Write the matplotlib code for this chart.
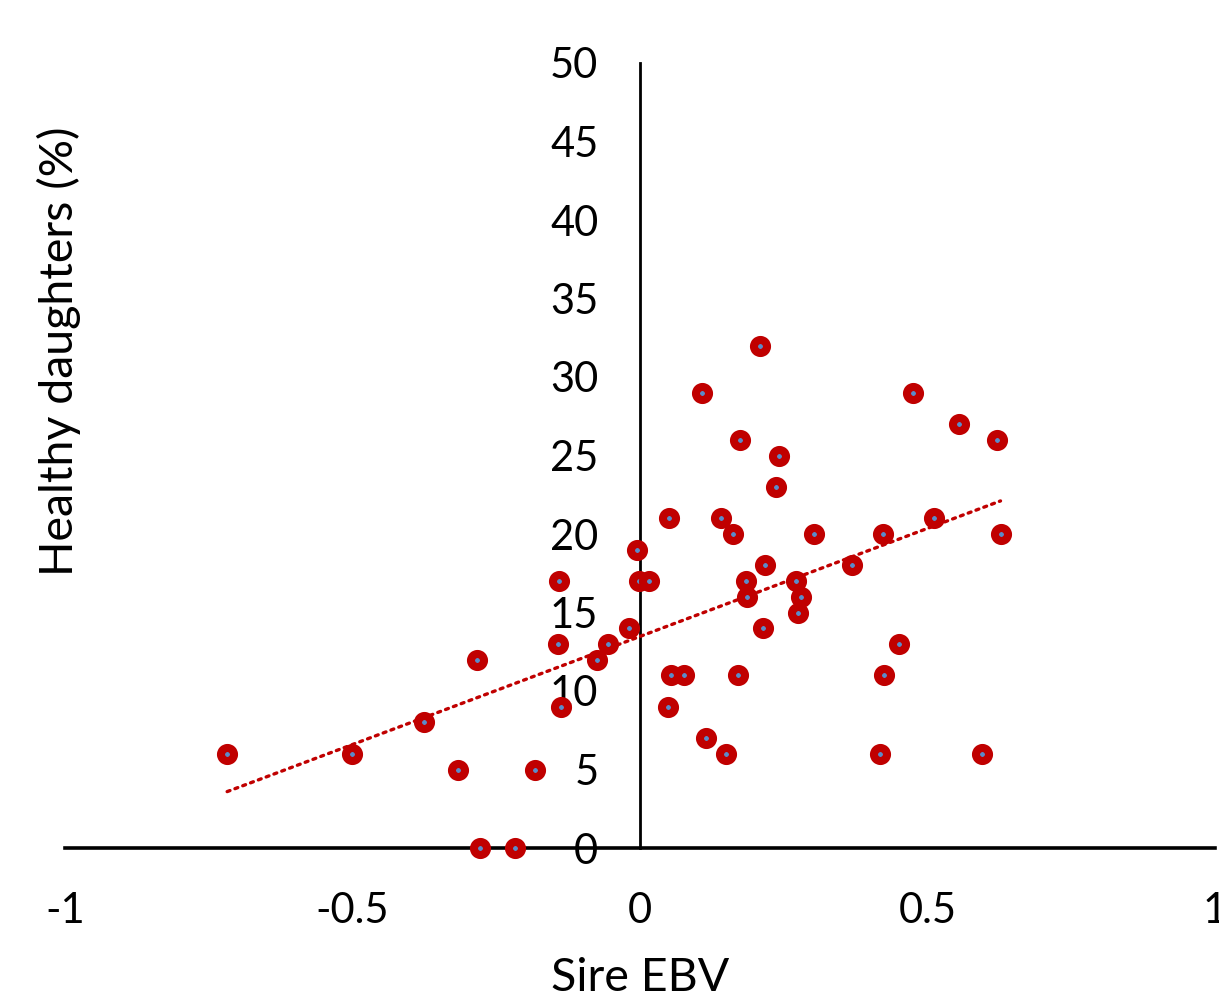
import numpy as np
import matplotlib
matplotlib.use("Agg")
import matplotlib.pyplot as plt

sire_ebv = [-0.718, -0.501, -0.376, -0.317, -0.283, -0.279, -0.217, -0.183,
            -0.141, -0.142, -0.137, -0.075, -0.055, -0.020, -0.005, -0.001, 0.016,
            0.208, 0.108, 0.475, 0.554, 0.621, 0.174, 0.242, 0.237, 0.050, 0.140,
            0.161, 0.303, 0.423, 0.512, 0.627, 0.218, 0.369, 0.185, 0.272, 0.186,
            0.280, 0.275, 0.214, 0.450, 0.054, 0.077, 0.170, 0.424, 0.049, 0.115,
            0.150, 0.417, 0.595]
healthy_pct = [6, 6, 8, 5, 12, 0, 0, 5,
               17, 13, 9, 12, 13, 14, 19, 17, 17,
               32, 29, 29, 27, 26, 26, 25, 23, 21, 21,
               20, 20, 20, 21, 20, 18, 18, 17, 17, 16,
               16, 15, 14, 13, 11, 11, 11, 11, 9, 7,
               6, 6, 6]
x_ticks = [-1, -0.5, 0, 0.5, 1]
x_tick_labels = ["-1", "-0.5", "0", "0.5", "1"]
y_ticks = [0, 5, 10, 15, 20, 25, 30, 35, 40, 45, 50]

plt.rcParams['font.family'] = ['Lato', 'DejaVu Sans']

fig = plt.figure(figsize=(12.19, 10.01), dpi=100)
ax = fig.add_axes([65/1219, 1 - 848/1001, 1150/1219, 785/1001])

x = np.array(sire_ebv)
y = np.array(healthy_pct)

# trendline (linear least squares over data range)
slope, intercept = np.polyfit(x, y, 1)
xt = np.array([x.min(), x.max()])
ax.plot(xt, slope * xt + intercept, color='#C00000', linewidth=2.4,
        linestyle=(0, (0.9, 1.6)), dash_capstyle='round', zorder=2)

ax.plot(x, y, linestyle='none', marker='o', markersize=9.4, markeredgewidth=5.8,
        markerfacecolor='#5B8BC9', markeredgecolor='#C00000', zorder=3,
        clip_on=False)

ax.set_xlim(-1, 1)
ax.set_ylim(0, 50)
ax.set_xticks(x_ticks)
ax.set_xticklabels(x_tick_labels)
ax.set_yticks(y_ticks)

for s in ['top', 'right']:
    ax.spines[s].set_visible(False)
ax.spines['left'].set_position(('data', 0))
ax.spines['left'].set_linewidth(2.0)
ax.spines['bottom'].set_linewidth(2.6)
ax.spines['left'].set_zorder(1)
ax.spines['bottom'].set_zorder(1)

ax.tick_params(axis='both', length=0, labelsize=30, colors='black')
ax.tick_params(axis='x', pad=32)
ax.tick_params(axis='y', pad=30)

ax.set_xlabel('Sire EBV', fontsize=33.5, va='center')
ax.xaxis.set_label_coords(0.5, (848 - 978) / 785)
ax.set_ylabel('Healthy daughters (%)', fontsize=33.5, va='center')
ax.yaxis.set_label_coords((59 - 65) / 1150, (848 - 351) / 785)

fig.savefig('out.png', dpi=100)
